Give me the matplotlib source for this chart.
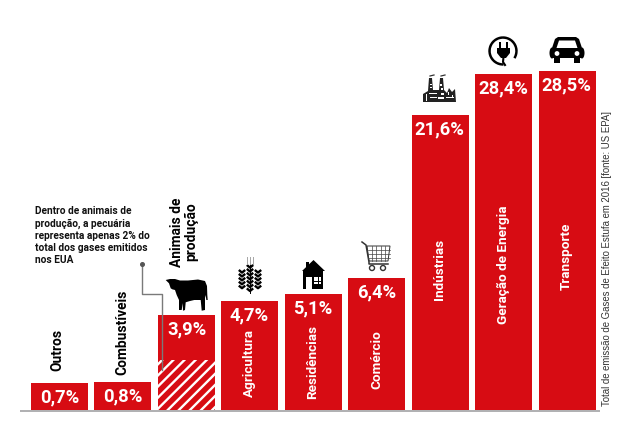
import numpy as np
import matplotlib
matplotlib.use("Agg")
import matplotlib.pyplot as plt
from matplotlib.patches import Polygon, Circle, Rectangle, Wedge, Ellipse

plt.rcParams["font.family"] = ["Roboto", "DejaVu Sans"]
plt.rcParams["hatch.linewidth"] = 1.7

RED = "#d70c13"

categories = ["Outros", "Combustíveis", "Animais de\nprodução", "Agricultura", "Residências",
              "Comércio", "Indústrias", "Geração de Energia", "Transporte"]
values = [0.7, 0.8, 3.9, 4.7, 5.1, 6.4, 21.6, 28.4, 28.5]
value_labels = ["0,7%", "0,8%", "3,9%", "4,7%", "5,1%", "6,4%", "21,6%", "28,4%", "28,5%"]
livestock_share = 2.0

note = ("Dentro de animais de\nprodução, a pecuária\nrepresenta apenas 2% do\n"
        "total dos gases emitidos\nnos EUA")
source = "Total de emissão de Gases de Efeito Estufa em 2016 [fonte: US EPA]"

# the bars are not linear in the value, the y axis is stretched by hand
knots_val = [0, 0.7, 0.8, 2.0, 3.9, 4.7, 5.1, 6.4, 21.6, 28.4, 28.5, 40]
knots_h = [0, 26.5, 28, 50, 94.5, 108.5, 115.5, 131.5, 294.5, 335.5, 338.5, 400]

def fwd(v):
    return np.interp(v, knots_val, knots_h)

def inv(h):
    return np.interp(h, knots_h, knots_val)

W, H = 638, 434
fig = plt.figure(figsize=(W / 100, H / 100), dpi=100)
BASE = 409.5
ax = fig.add_axes([31 / W, (H - BASE) / H, (595.5 - 31) / W, 400 / H])
ax.set_yscale("function", functions=(fwd, inv))
ax.set_ylim(0, 40)
step = (595.5 - 31 - 57) / 8
ax.set_xlim(-28.5 / step, 8 + 28.5 / step)
ax.axis("off")

x = np.arange(len(values))
w = 57 / step
ax.bar(x, values, width=w, color=RED, linewidth=0)
# hatched part of the third bar
ax.bar(x[2], livestock_share, width=w, color=RED, edgecolor="white", hatch="///", linewidth=0)

# overlay in pixel coordinates for labels, annotation and pictograms
ov = fig.add_axes([0, 0, 1, 1])
ov.set_xlim(0, W)
ov.set_ylim(H, 0)
ov.axis("off")
ov.patch.set_alpha(0)

ov.plot([20, 600], [410.5, 410.5], color="#a9a9ab", lw=1.3, solid_capstyle="butt")

centers = [59.5, 122.5, 186.5, 249.5, 313, 376.5, 439.5, 503.5, 566.5]
tops = [BASE - fwd(v) for v in values]
for cx, t, lab in zip(centers, tops, value_labels):
    ov.text(cx, t + 14.5, lab, color="white", fontsize=13.2, fontweight="bold",
            ha="center", va="center")

# category names: inside the tall bars, above the short ones
inside_y = {3: 363, 4: 362, 5: 360, 6: 269, 7: 265, 8: 256}
for i, cy in inside_y.items():
    ov.text(centers[i], cy, categories[i], color="white", fontsize=9.7, fontweight="bold",
            rotation=90, ha="center", va="center")
ov.text(57.5, 350, categories[0], color="black", fontsize=9.9, fontweight="bold", rotation=90,
        ha="center", va="center")
ov.text(122, 332, categories[1], color="black", fontsize=9.9, fontweight="bold", rotation=90,
        ha="center", va="center")
ov.text(184, 232, categories[2], color="black", fontsize=9.9, fontweight="bold", rotation=90,
        ha="center", va="center", linespacing=1.0, multialignment="center")

ov.text(35, 235.5, note, color="#111111", fontsize=7.3, fontweight="bold", ha="left", va="center",
        linespacing=1.24)
ov.plot([142, 142, 162, 162], [264, 294, 294, 370], color="#7a7a7a", lw=1)
ov.plot([142], [264], "o", color="#555555", ms=2.6)

ov.text(607, 258.5, source, color="#333333", fontsize=6.95, rotation=90, ha="center", va="center",
        family="Liberation Sans")

# cow
cow = [(165.7, 280), (170, 279), (175, 279), (180, 280.5), (188, 280.5), (198, 279.5), (205, 281),
       (207, 286), (207.3, 295), (207.7, 300), (206.3, 300), (205.7, 295), (205, 298), (205, 310),
       (201.7, 310.7), (200.7, 300), (194.3, 300), (190, 301), (185.7, 302.3), (185, 310), (183, 310.7),
       (182.7, 303), (181.7, 310), (179, 310), (179, 300), (176.7, 295), (175, 290), (172.3, 289.3),
       (170.7, 288.3), (169, 283.3)]
ov.add_patch(Polygon(cow, color="black", lw=0))

# wheat
ov.plot([250, 250], [264, 293], color="black", lw=0.7)
for cx, top, n in ((242, 270, 5), (250, 265, 7), (258, 270, 5)):
    for k in range(n):
        yy = top + k * 3.9
        ov.plot([cx - 3.2, cx, cx + 3.2], [yy, yy + 2.6, yy], color="black", lw=1.7,
                solid_capstyle="butt")
for dx in (-3, 0, 3):
    ov.plot([250 + dx, 250 + dx], [257, 264], color="#a5a5a5", lw=0.7)

# house
ov.add_patch(Polygon([(302, 271), (313.5, 260), (325, 271)], color="black", lw=0))
ov.add_patch(Rectangle((306, 262), 2.5, 6, color="black", lw=0))
ov.add_patch(Rectangle((303, 271), 20, 18, color="black", lw=0))
ov.add_patch(Rectangle((306, 277), 6, 12, color="white", lw=0))
ov.add_patch(Rectangle((314, 277), 7, 7, color="white", lw=0))
ov.plot([317.5, 317.5], [277, 284], color="black", lw=0.7)
ov.plot([314, 321], [280.5, 280.5], color="black", lw=0.7)

# shopping cart
ov.plot([362, 366, 369, 369, 388], [242, 245, 262, 264, 264], color="#333333", lw=1.1)
ov.add_patch(Polygon([(367, 246), (390, 246), (388, 261), (369, 261)], fc="white", ec="#333333", lw=0.7))
for gx in (371.5, 376, 380.5, 385):
    ov.plot([gx, gx], [246, 261], color="#444444", lw=0.5)
for gy in (250, 254, 258):
    ov.plot([367.5, 389.5], [gy, gy], color="#444444", lw=0.5)
for gx in (372, 383):
    ov.add_patch(Circle((gx, 268), 2.5, fc="white", ec="#333333", lw=1))

# factory
ov.add_patch(Polygon([(423, 102), (423, 94), (428, 91), (429, 78), (432, 78), (433, 90), (439, 90),
                      (440, 78), (443, 78), (444, 90), (447, 93), (449, 88), (452, 92), (455, 89),
                      (456, 102)], color="#222222", lw=0))
for r in [(426, 94, 1.4, 7), (429, 93, 8, 1.3), (430, 97, 7, 1.3), (440, 84, 1.5, 1.5), (441, 88, 1.5, 2),
          (446, 97, 8, 1.3), (441, 93, 3, 2), (438, 97, 6, 1.5), (448, 92, 1.3, 3), (452, 95, 1.3, 2),
          (429.5, 84, 2, 1.3), (429.5, 87, 2, 1.3)]:
    ov.add_patch(Rectangle(r[:2], r[2], r[3], color="white", lw=0))
ov.plot([430, 434], [76, 75], color="#333333", lw=0.9)
ov.plot([441, 445], [76, 75], color="#333333", lw=0.9)

# plug
ov.add_patch(Wedge((503, 51), 14.7, 88, 392, width=2.5, color="black", lw=0))
ov.add_patch(Polygon([(497, 48), (510, 48), (510, 53), (506, 58), (501, 58), (497, 53)], color="black", lw=0))
ov.add_patch(Rectangle((499, 42), 2.2, 7, color="black", lw=0))
ov.add_patch(Rectangle((505.5, 42), 2.2, 7, color="black", lw=0))
ov.plot([503.5, 503, 505], [57, 62, 65], color="black", lw=1.5)

# car
ov.add_patch(Polygon([(551, 51), (555, 39), (558, 37), (576, 37), (579, 39), (583, 51)],
                     fc="black", ec="black", lw=0))
ov.add_patch(Polygon([(556.5, 48), (559, 40.5), (575, 40.5), (577.5, 48)], color="white", lw=0))
ov.add_patch(Rectangle((551, 47.5), 32, 10.5, color="black", lw=0))
ov.add_patch(Ellipse((552, 53), 5, 11, color="black", lw=0))
ov.add_patch(Ellipse((582, 53), 5, 11, color="black", lw=0))
ov.add_patch(Rectangle((554, 58), 6, 5, color="black", lw=0))
ov.add_patch(Rectangle((574, 58), 6, 5, color="black", lw=0))
ov.add_patch(Circle((557, 53.5), 2.4, color="white", lw=0))
ov.add_patch(Circle((577, 53.5), 2.4, color="white", lw=0))

fig.savefig("out.png", dpi=100)
